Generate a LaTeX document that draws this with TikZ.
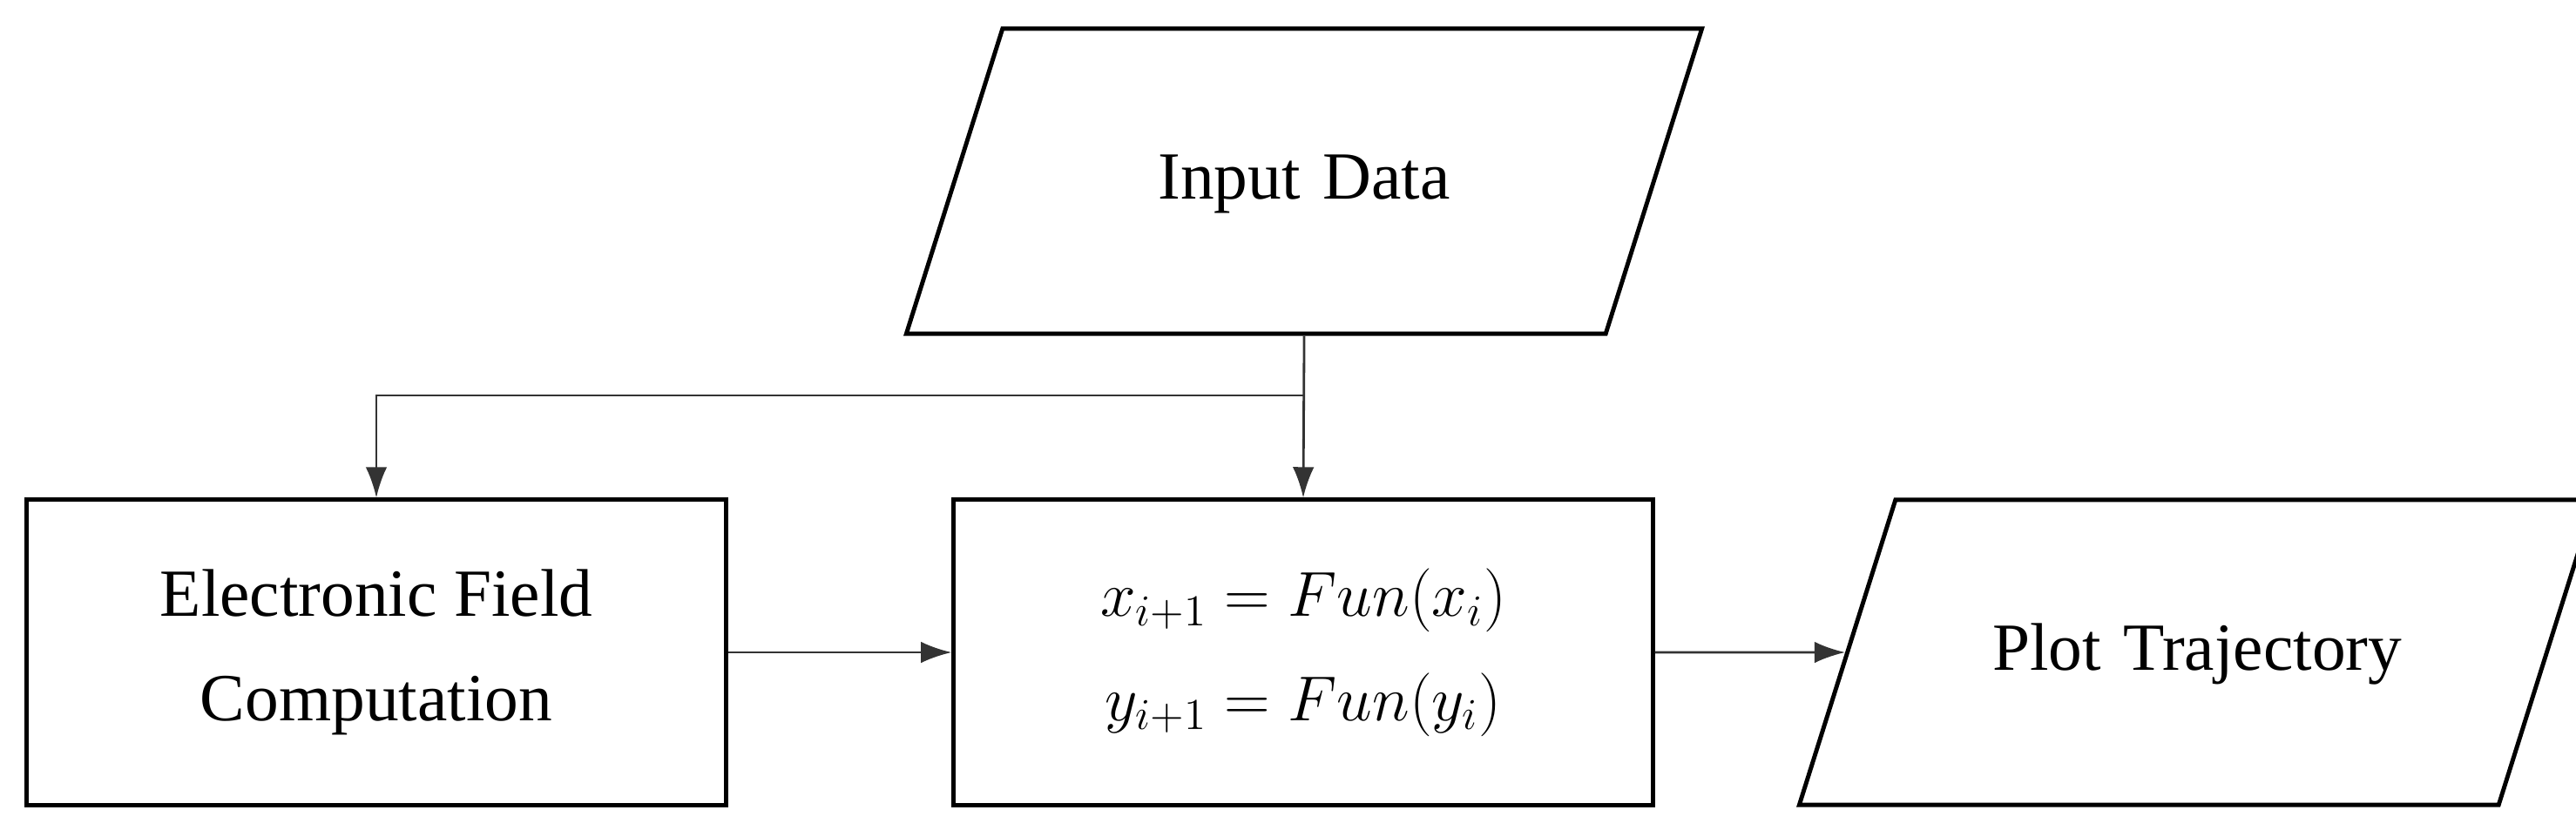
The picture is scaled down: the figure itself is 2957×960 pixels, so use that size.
\documentclass[tikz,border=0pt]{standalone}
\usepackage{fontspec}
\setmainfont{Liberation Serif}
\usetikzlibrary{arrows.meta,positioning,shapes.geometric}
\tikzset{%
   box/.style={rectangle, draw=black, line width=1.4pt, minimum width=8.02cm, minimum height=3.5cm, align=center, inner sep=0pt},
   io/.style={trapezium, trapezium left angle=72.5, trapezium right angle=107.5, draw=black, line width=1.4pt, text width=6.92cm, align=center, text height=0.6cm, text depth=0.2cm, inner xsep=0pt, inner ysep=1.35cm},
   link/.style={-{Latex[length=10pt,width=7pt]}, line width=0.8pt, draw=black!80},
}
\begin{document}
\begin{tikzpicture}[x=0.01cm, y=-0.01cm, font=\fontsize{22}{34}\selectfont]
      \useasboundingbox (0,0) rectangle (2957,960);
      \node[io] (input) at (1497,208) {Input Data};
      \node[box] (field) at (432,749) {Electronic Field\\Computation};
      \node[box] (iter) at (1496,749) {$x_{i+1}=Fun(x_i)$\\$y_{i+1}=Fun(y_i)$};
      \node[io] (plot) at (2522,749) {Plot Trajectory};
      \coordinate (split) at (input.south |- 0,454);
      \draw[link] (input.south) -- (iter.north);
      \draw[link] (split) -| (field.north);
      \draw[link] (field.east) -- (iter.west);
      \draw[link] (iter.east) -- (plot.west);
   \end{tikzpicture}
\end{document}
